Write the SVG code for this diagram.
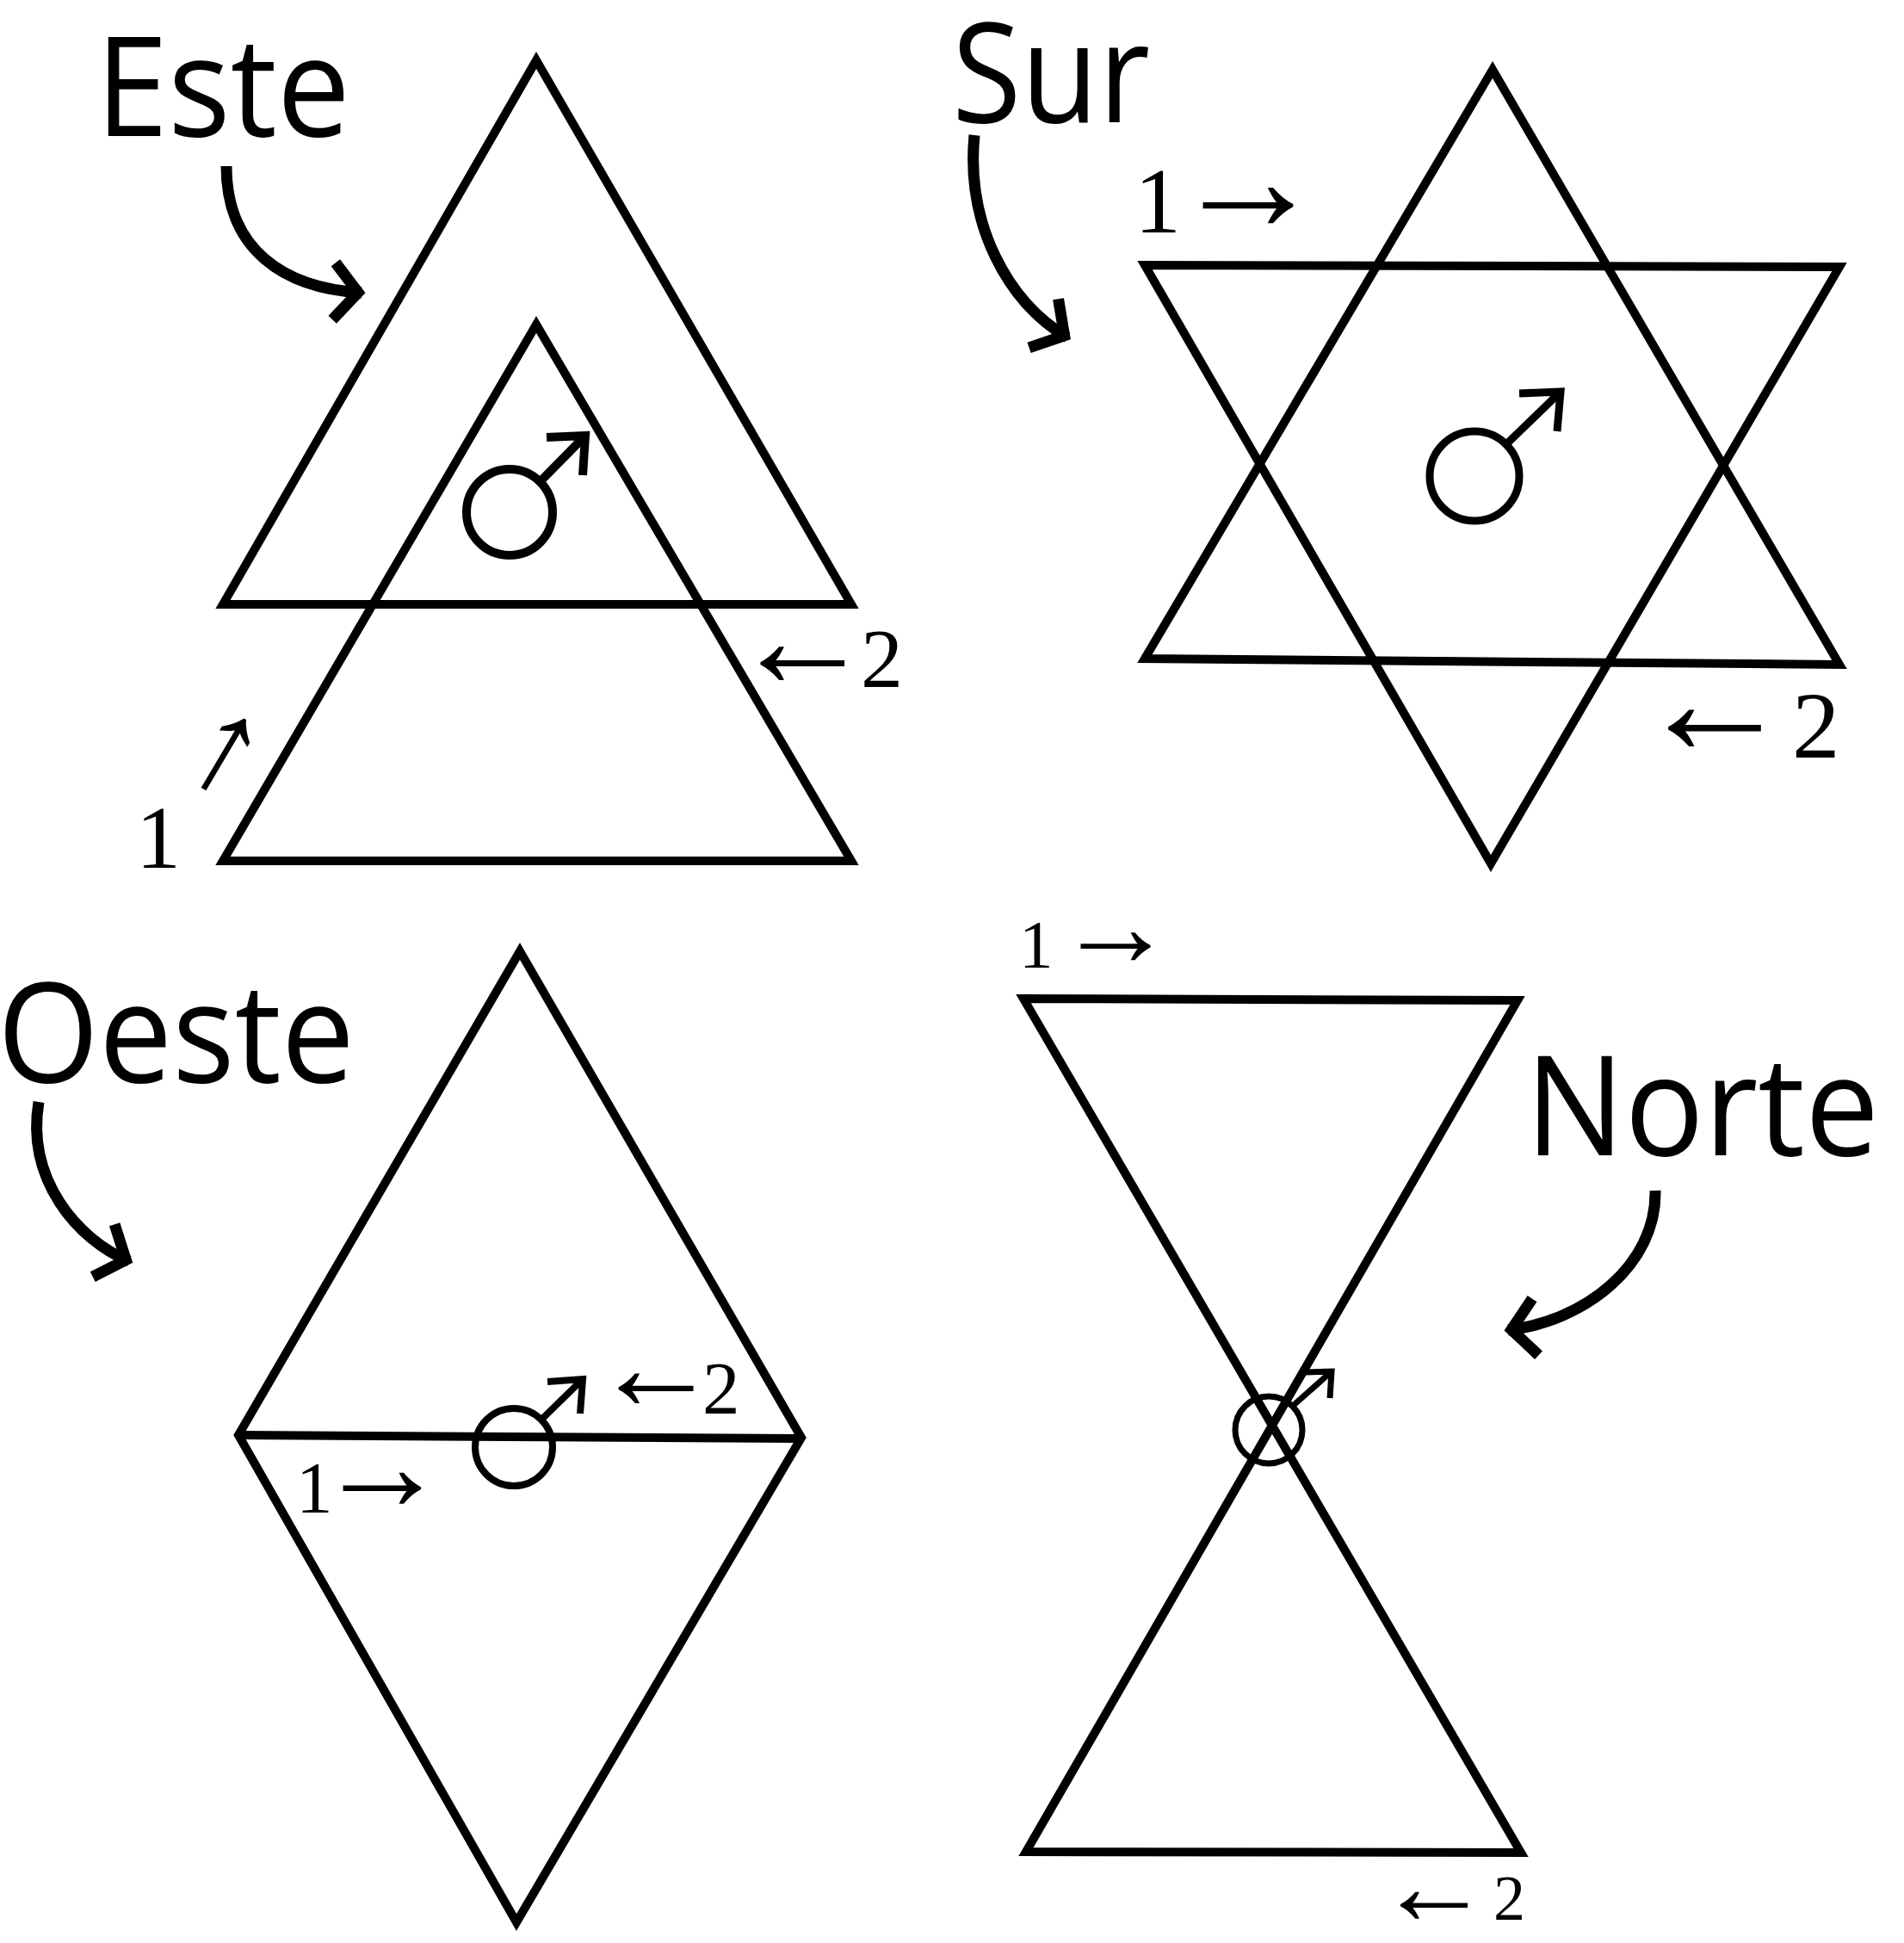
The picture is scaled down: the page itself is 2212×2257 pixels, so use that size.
<svg xmlns="http://www.w3.org/2000/svg" width="2212" height="2257" viewBox="0 0 2212 2257">
<defs>
<style>
.shape{fill:none;stroke:#000;stroke-width:10;stroke-linejoin:miter}
.curve{fill:none;stroke:#000;stroke-width:13;marker-end:url(#chev)}
.chev{fill:none;stroke:#000;stroke-width:13;stroke-linejoin:miter}
.mars{fill:none;stroke:#000;stroke-linecap:butt}
.word{font-family:"Open Sans","Noto Sans","Liberation Sans",sans-serif;font-size:161px;fill:#000}
.num{font-family:"Liberation Serif","DejaVu Serif",serif;fill:#000}
</style>
<marker id="chev" markerUnits="userSpaceOnUse" viewBox="-50 -50 60 100" refX="0" refY="0" markerWidth="60" markerHeight="100" orient="auto">
<path class="chev" d="M-32,-33 L-4,0 L-32,33"/>
</marker>
</defs>
<rect width="2212" height="2257" fill="#fff"/>

<g id="este">
<text class="word" x="111" y="158" textLength="296" lengthAdjust="spacingAndGlyphs">Este</text>
<polygon class="shape" points="623,70 259,702 989,702"/>
<polygon class="shape" points="623,377 259,1000 989,1000"/>
<g class="mars" stroke="#000" stroke-width="10">
<circle cx="592" cy="595" r="50"/>
<path d="M627,560 L680,506 M635,508 L680,506 L677,552"/>
</g>
<text class="num" x="849.5" y="798"><tspan font-size="165">←</tspan><tspan font-size="98" dx="-14.5">2</tspan></text>
<text class="num" font-size="104" x="158" y="1008">1</text>
<g transform="translate(256,873) rotate(-59.4)"><text class="num" font-size="160" x="0" y="32" text-anchor="middle">→</text></g>
</g>

<g id="sur">
<text class="word" x="1106" y="142" textLength="230" lengthAdjust="spacingAndGlyphs">Sur</text>
<polygon class="shape" points="1734,81 1330,765 2137,772"/>
<polygon class="shape" points="1330,308 2137,310 1732,1003"/>
<g class="mars" stroke="#000" stroke-width="9">
<circle cx="1713" cy="553" r="52"/>
<path d="M1750,516 L1813,455 M1765,457 L1813,455 L1809,501"/>
</g>
<text class="num" x="1318" y="270"><tspan font-size="108">1</tspan><tspan font-size="177" dx="-10.5" dy="-2">→</tspan></text>
<text class="num" x="1901" y="876"><tspan font-size="182">←</tspan><tspan font-size="111" dx="-1" dy="4">2</tspan></text>
</g>

<g id="oeste">
<text class="word" x="-3" y="1257" textLength="415" lengthAdjust="spacingAndGlyphs">Oeste</text>
<polygon class="shape" points="604,1105 931,1670 600,2233 277,1667"/>
<line class="shape" x1="277" y1="1667" x2="931" y2="1671"/>
<g class="mars" stroke="#000" stroke-width="8">
<circle cx="597" cy="1681" r="45"/>
<path d="M629,1649 L677,1602 M636,1605 L677,1602 L674,1642"/>
</g>
<text class="num" x="688.5" y="1637"><tspan font-size="147">←</tspan><tspan font-size="87" dx="-19.5" dy="5">2</tspan></text>
<text class="num" x="344" y="1757"><tspan font-size="85">1</tspan><tspan font-size="153" dx="-19" dy="-3">→</tspan></text>
</g>

<g id="norte">
<text class="word" x="1772" y="1342" textLength="411" lengthAdjust="spacingAndGlyphs">Norte</text>
<path class="shape" d="M1189,1160 L1763,1162 L1192,2151 L1767,2152 Z"/>
<g class="mars" stroke="#000" stroke-width="7">
<circle cx="1474" cy="1661" r="39"/>
<path d="M1502,1633 L1547,1593 M1516,1594 L1547,1593 L1545,1624"/>
</g>
<text class="num" x="1184" y="1123"><tspan font-size="79">1</tspan><tspan font-size="137" dx="4" dy="-1">→</tspan></text>
<text class="num" x="1600" y="2235"><tspan font-size="132">←</tspan><tspan font-size="74" dx="3" dy="-5">2</tspan></text>
</g>

<g id="connectors">
<path class="curve" d="M263,193 C263,290 330,335 420,340"/>
<path class="curve" d="M1132,157 C1122,260 1170,350 1240,392"/>
<path class="curve" d="M45,1280 C30,1370 90,1440 150,1465"/>
<path class="curve" d="M1923,1383 C1925,1470 1840,1535 1752,1545"/>
</g>
</svg>
